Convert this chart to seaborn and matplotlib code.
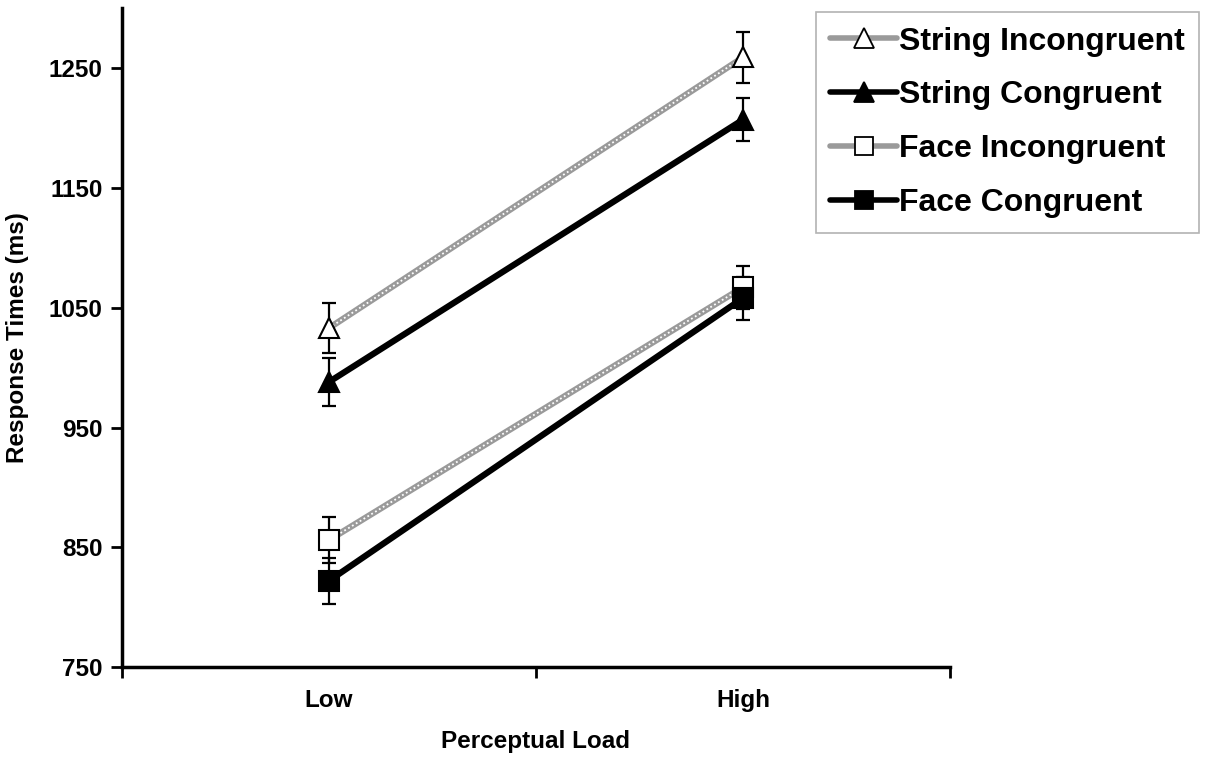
import pandas as pd
import numpy as np
import seaborn as sns
import matplotlib.pyplot as plt
from matplotlib.lines import Line2D

load = ["Low", "High"]
conditions = ["String Incongruent", "String Congruent", "Face Incongruent", "Face Congruent"]
string_incong = [1033, 1259]
string_cong = [988, 1207]
face_incong = [856, 1067]
face_cong = [822, 1058]
string_incong_err = [21, 21]
string_cong_err = [20, 18]
face_incong_err = [19, 18]
face_cong_err = [19, 18]

values = [string_incong, string_cong, face_incong, face_cong]
errors = [string_incong_err, string_cong_err, face_incong_err, face_cong_err]

rows = []
for c, v, e in zip(conditions, values, errors):
    for i, l in enumerate(load):
        rows.append({"Condition": c, "Load": l, "x": i, "RT": v[i], "err": e[i]})
df = pd.DataFrame(rows)

sns.set_style("white")
plt.rcParams['font.family'] = ['Liberation Sans', 'DejaVu Sans']
plt.rcParams['text.color'] = 'black'
plt.rcParams['axes.labelcolor'] = 'black'
plt.rcParams['xtick.color'] = 'black'
plt.rcParams['ytick.color'] = 'black'

fig = plt.figure(figsize=(12.07, 7.58), dpi=100)
ax = fig.add_axes([0.101, 0.12, 0.686, 0.869])

styles = {
    "String Incongruent": dict(color="#9a9a9a", marker="^", mfc="white", ms=15),
    "String Congruent": dict(color="black", marker="^", mfc="black", ms=15),
    "Face Incongruent": dict(color="#9a9a9a", marker="s", mfc="white", ms=14),
    "Face Congruent": dict(color="black", marker="s", mfc="black", ms=14),
}

# lines via seaborn
sns.lineplot(data=df, x="x", y="RT", hue="Condition", hue_order=conditions,
             palette={c: styles[c]["color"] for c in conditions},
             linewidth=4.5, legend=False, ax=ax, errorbar=None, zorder=2)

# grey lines get a dotted overlay to mimic the hatched look
for c in ["String Incongruent", "Face Incongruent"]:
    d = df[df.Condition == c]
    ax.plot(d.x, d.RT, color="white", lw=1.3, ls=(0, (1, 1.5)), zorder=2.5)

for c in conditions:
    d = df[df.Condition == c]
    s = styles[c]
    ax.errorbar(d.x, d.RT, yerr=d.err, fmt="none", ecolor="black", elinewidth=1.6,
                capsize=5, capthick=1.6, zorder=3)
    ax.plot(d.x, d.RT, ls="none", marker=s["marker"], ms=s["ms"], mfc=s["mfc"],
            mec="black", mew=1.5, zorder=4)

ax.set_xlim(-0.5, 1.5)
ax.set_ylim(750, 1300)
ax.set_yticks([750, 850, 950, 1050, 1150, 1250])
ax.set_xticks([-0.5, 0.5, 1.5])
ax.set_xticklabels([])
ax.set_xticks([0, 1], minor=True)
ax.set_xticklabels(load, minor=True)
ax.tick_params(axis="x", which="major", direction="out", length=8, width=2, bottom=True)
ax.tick_params(axis="x", which="minor", length=0, pad=16, labelsize=17.5)
ax.tick_params(axis="y", direction="out", length=8, width=2, left=True, labelsize=17.5, pad=6)
for lab in ax.get_xticklabels(minor=True) + ax.get_yticklabels():
    lab.set_fontweight("bold")

for side in ["top", "right"]:
    ax.spines[side].set_visible(False)
for side in ["left", "bottom"]:
    ax.spines[side].set_color("black")
    ax.spines[side].set_linewidth(2.5)

ax.set_xlabel("Perceptual Load", fontsize=17.5, fontweight="bold", labelpad=13)
ax.set_ylabel("Response Times (ms)", fontsize=17.5, fontweight="bold", labelpad=14)

handles = []
for c in conditions:
    s = styles[c]
    handles.append(Line2D([0], [0], color=s["color"], lw=4, marker=s["marker"],
                          ms=s["ms"] - 1, mfc=s["mfc"], mec="black", mew=1.3))
leg = fig.legend(handles, conditions, loc="upper left", bbox_to_anchor=(0.676, 0.984),
                 frameon=True, fancybox=False, handlelength=2.1, handletextpad=0.05,
                 prop={"weight": "bold", "size": 23}, labelspacing=0.75,
                 borderpad=0.45, borderaxespad=0)
leg.get_frame().set_edgecolor("#a0a0a0")
leg.get_frame().set_linewidth(1.2)

fig.savefig("out.png", dpi=100)
